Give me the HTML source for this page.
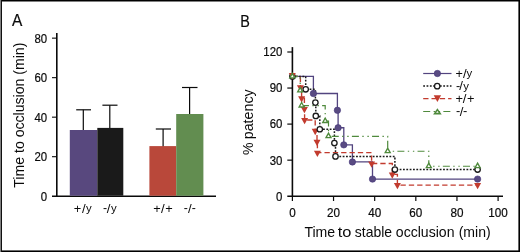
<!DOCTYPE html>
<html lang="en">
<head>
<meta charset="utf-8">
<title>Figure: time to occlusion and patency</title>
<style>
html,body{margin:0;padding:0;background:#fff;}
body{width:520px;height:252px;overflow:hidden;}
svg{display:block;font-family:"Liberation Sans", sans-serif;}
text{stroke:#0a0a0a;stroke-width:0.2px;}
text.t{stroke:none;}
</style>
</head>
<body>
<svg width="520" height="252" viewBox="0 0 520 252">
<rect x="0" y="0" width="520" height="252" fill="#ffffff"/>
<rect x="0" y="0" width="520" height="1.5" fill="#000"/>
<rect x="0" y="250.42" width="520" height="1.58" fill="#000"/>
<rect x="0" y="0" width="1" height="252" fill="#808080"/>
<rect x="1" y="0" width="1" height="252" fill="#101010"/>
<rect x="518.4" y="0" width="1.6" height="252" fill="#000"/>
<text x="11.9" y="26.4" font-size="17.3" fill="#0a0a0a" textLength="10.3" lengthAdjust="spacingAndGlyphs">A</text>
<text x="240.3" y="26.5" font-size="17.3" fill="#0a0a0a" textLength="9.6" lengthAdjust="spacingAndGlyphs">B</text>
<line x1="56.8" y1="32.9" x2="56.8" y2="196.80" stroke="#0a0a0a" stroke-width="1.6"/>
<line x1="52" y1="196.2" x2="216" y2="196.2" stroke="#0a0a0a" stroke-width="1.35"/>
<line x1="52" y1="156.69" x2="56.8" y2="156.69" stroke="#0a0a0a" stroke-width="1.1"/>
<line x1="52" y1="117.17" x2="56.8" y2="117.17" stroke="#0a0a0a" stroke-width="1.1"/>
<line x1="52" y1="77.66" x2="56.8" y2="77.66" stroke="#0a0a0a" stroke-width="1.1"/>
<line x1="52" y1="38.15" x2="56.8" y2="38.15" stroke="#0a0a0a" stroke-width="1.1"/>
<text x="47.2" y="200.55" font-size="12.3" fill="#0a0a0a" text-anchor="end" textLength="6.35" lengthAdjust="spacingAndGlyphs">0</text>
<text x="47.2" y="161.04" font-size="12.3" fill="#0a0a0a" text-anchor="end" textLength="12.7" lengthAdjust="spacingAndGlyphs">20</text>
<text x="47.2" y="121.52" font-size="12.3" fill="#0a0a0a" text-anchor="end" textLength="12.7" lengthAdjust="spacingAndGlyphs">40</text>
<text x="47.2" y="82.01" font-size="12.3" fill="#0a0a0a" text-anchor="end" textLength="12.7" lengthAdjust="spacingAndGlyphs">60</text>
<text x="47.2" y="42.5" font-size="12.3" fill="#0a0a0a" text-anchor="end" textLength="12.7" lengthAdjust="spacingAndGlyphs">80</text>
<text x="24.4" y="187.7" font-size="15" fill="#0a0a0a" textLength="145.1" lengthAdjust="spacingAndGlyphs" transform="rotate(-90 24.4 187.7)" class="t">Time to occlusion (min)</text>
<line x1="83.3" y1="109.8" x2="83.3" y2="131.0" stroke="#0a0a0a" stroke-width="1.2"/>
<line x1="76.2" y1="109.8" x2="91.0" y2="109.8" stroke="#0a0a0a" stroke-width="1.2"/>
<rect x="69.8" y="130.0" width="27.50" height="65.70" fill="#58487e"/>
<line x1="109.8" y1="105.2" x2="109.8" y2="128.9" stroke="#0a0a0a" stroke-width="1.2"/>
<line x1="102.4" y1="105.2" x2="117.5" y2="105.2" stroke="#0a0a0a" stroke-width="1.2"/>
<rect x="97.3" y="127.9" width="26.00" height="67.80" fill="#1a1a1a"/>
<line x1="163.1" y1="129.0" x2="163.1" y2="147.1" stroke="#0a0a0a" stroke-width="1.2"/>
<line x1="155.8" y1="129.0" x2="171.0" y2="129.0" stroke="#0a0a0a" stroke-width="1.2"/>
<rect x="149.4" y="146.1" width="26.80" height="49.60" fill="#b9483a"/>
<line x1="189.6" y1="87.5" x2="189.6" y2="115.0" stroke="#0a0a0a" stroke-width="1.2"/>
<line x1="182.0" y1="87.5" x2="197.5" y2="87.5" stroke="#0a0a0a" stroke-width="1.2"/>
<rect x="176.2" y="114.0" width="27.20" height="81.70" fill="#628d50"/>
<text class="t" fill="#0a0a0a" aria-label="+/y"><tspan x="73.8" y="213.1" font-size="12.8">+</tspan><tspan x="81.9" y="213.1" font-size="13.2">/</tspan><tspan x="86.1" y="211.8" font-size="11.4">y</tspan></text>
<text class="t" fill="#0a0a0a" aria-label="-/y"><tspan x="103.0" y="212.4" font-size="12.3">-</tspan><tspan x="106.7" y="213.1" font-size="13.2">/</tspan><tspan x="110.9" y="211.8" font-size="11.4">y</tspan></text>
<text class="t" fill="#0a0a0a" aria-label="+/+"><tspan x="153.2" y="213.1" font-size="12.8">+</tspan><tspan x="161.1" y="213.1" font-size="13.2">/</tspan><tspan x="165.2" y="213.1" font-size="12.8">+</tspan></text>
<text class="t" fill="#0a0a0a" aria-label="-/-"><tspan x="183.8" y="212.4" font-size="12.3">-</tspan><tspan x="188.0" y="213.1" font-size="13.2">/</tspan><tspan x="191.7" y="212.4" font-size="12.3">-</tspan></text>
<line x1="292.4" y1="47.1" x2="292.4" y2="196.80" stroke="#0a0a0a" stroke-width="1.6"/>
<line x1="287.3" y1="196.2" x2="503" y2="196.2" stroke="#0a0a0a" stroke-width="1.35"/>
<line x1="287.3" y1="160.15" x2="292.4" y2="160.15" stroke="#0a0a0a" stroke-width="1.2"/>
<line x1="287.3" y1="124.10" x2="292.4" y2="124.10" stroke="#0a0a0a" stroke-width="1.2"/>
<line x1="287.3" y1="88.05" x2="292.4" y2="88.05" stroke="#0a0a0a" stroke-width="1.2"/>
<line x1="287.3" y1="52.00" x2="292.4" y2="52.00" stroke="#0a0a0a" stroke-width="1.2"/>
<text x="282.4" y="200.55" font-size="12.3" fill="#0a0a0a" text-anchor="end" textLength="6.35" lengthAdjust="spacingAndGlyphs">0</text>
<text x="282.4" y="164.5" font-size="12.3" fill="#0a0a0a" text-anchor="end" textLength="12.7" lengthAdjust="spacingAndGlyphs">30</text>
<text x="282.4" y="128.45" font-size="12.3" fill="#0a0a0a" text-anchor="end" textLength="12.7" lengthAdjust="spacingAndGlyphs">60</text>
<text x="282.4" y="92.4" font-size="12.3" fill="#0a0a0a" text-anchor="end" textLength="12.7" lengthAdjust="spacingAndGlyphs">90</text>
<text x="282.4" y="56.35" font-size="12.3" fill="#0a0a0a" text-anchor="end" textLength="19.049999999999997" lengthAdjust="spacingAndGlyphs">120</text>
<line x1="292.40" y1="196.2" x2="292.40" y2="201" stroke="#0a0a0a" stroke-width="1.2"/>
<text x="292.4" y="216.7" font-size="12.3" fill="#0a0a0a" text-anchor="middle" textLength="6.5" lengthAdjust="spacingAndGlyphs">0</text>
<line x1="333.54" y1="196.2" x2="333.54" y2="201" stroke="#0a0a0a" stroke-width="1.2"/>
<text x="333.54" y="216.7" font-size="12.3" fill="#0a0a0a" text-anchor="middle" textLength="13.0" lengthAdjust="spacingAndGlyphs">20</text>
<line x1="374.68" y1="196.2" x2="374.68" y2="201" stroke="#0a0a0a" stroke-width="1.2"/>
<text x="374.68" y="216.7" font-size="12.3" fill="#0a0a0a" text-anchor="middle" textLength="13.0" lengthAdjust="spacingAndGlyphs">40</text>
<line x1="415.82" y1="196.2" x2="415.82" y2="201" stroke="#0a0a0a" stroke-width="1.2"/>
<text x="415.82" y="216.7" font-size="12.3" fill="#0a0a0a" text-anchor="middle" textLength="13.0" lengthAdjust="spacingAndGlyphs">60</text>
<line x1="456.96" y1="196.2" x2="456.96" y2="201" stroke="#0a0a0a" stroke-width="1.2"/>
<text x="456.96" y="216.7" font-size="12.3" fill="#0a0a0a" text-anchor="middle" textLength="13.0" lengthAdjust="spacingAndGlyphs">80</text>
<line x1="498.10" y1="196.2" x2="498.10" y2="201" stroke="#0a0a0a" stroke-width="1.2"/>
<text x="498.1" y="216.7" font-size="12.3" fill="#0a0a0a" text-anchor="middle" textLength="19.5" lengthAdjust="spacingAndGlyphs">100</text>
<text class="t" y="0" font-size="15" fill="#0a0a0a" transform="translate(252.6 154.4) rotate(-90)" aria-label="% patency"><tspan x="-0.56" textLength="12.46" lengthAdjust="spacingAndGlyphs">%</tspan> <tspan x="15.16" textLength="49.95" lengthAdjust="spacingAndGlyphs">patency</tspan></text>
<text class="t" y="237" font-size="14.4" fill="#0a0a0a" aria-label="Time to stable occlusion (min)"><tspan x="304.4" textLength="30.8" lengthAdjust="spacingAndGlyphs">Time</tspan> <tspan x="337.7" textLength="13.7" lengthAdjust="spacingAndGlyphs">to</tspan> <tspan x="354.8" textLength="37.3" lengthAdjust="spacingAndGlyphs">stable</tspan> <tspan x="395.8" textLength="58.7" lengthAdjust="spacingAndGlyphs">occlusion</tspan> <tspan x="458.7" textLength="32.0" lengthAdjust="spacingAndGlyphs">(min)</tspan></text>
<path d="M292.40 76.40 L313.40 76.40 L313.40 93.51 L337.40 93.51 L337.40 110.30 L338.10 110.30 L338.10 127.74 L343.80 127.74 L343.80 144.86 L352.40 144.86 L352.40 161.97 L372.50 161.97 L372.50 179.10 L477.60 179.10" fill="none" stroke="#52447f" stroke-width="1.3"/>
<path d="M292.40 76.40 L305.70 76.40 L305.70 89.28 L315.40 89.28 L315.40 102.61 L315.80 102.61 L315.80 115.94 L319.80 115.94 L319.80 129.27 L334.40 129.27 L334.40 143.05 L335.50 143.05 L335.50 156.38 L394.90 156.38 L394.90 169.55 L477.60 169.55" fill="none" stroke="#1a1a1a" stroke-width="1.5" stroke-dasharray="1.8 1.54"/>
<path d="M292.40 76.40 L300.40 76.40 L300.40 87.29 L301.60 87.29 L301.60 98.18 L304.40 98.18 L304.40 109.07 L304.60 109.07 L304.60 119.96 L315.20 119.96 L315.20 130.85 L317.00 130.85 L317.00 141.75 L317.40 141.75 L317.40 152.64 L371.60 152.64 L371.60 163.53 L392.30 163.53 L392.30 174.42 L397.40 174.42 L397.40 185.05 L477.60 185.05" fill="none" stroke="#c23b2e" stroke-width="1.35" stroke-dasharray="5.3 3.04" stroke-dashoffset="0.1"/>
<path d="M292.40 76.40 L300.20 76.40 L300.20 90.60 L301.60 90.60 L301.60 105.65 L325.20 105.65 L325.20 121.20 L328.50 121.20 L328.50 136.30 L387.70 136.30 L387.70 151.27 L428.80 151.27 L428.80 166.25 L477.60 166.25" fill="none" stroke="#4f8a3c" stroke-width="1.2" stroke-dasharray="7.0 3.4 1.4 3.7 1.4 3.25" stroke-dashoffset="1.5"/>
<circle cx="292.40" cy="76.40" r="2.7" fill="#fff" stroke="#1a1a1a" stroke-width="1.3"/>
<circle cx="313.40" cy="93.51" r="3.2" fill="#594b82" stroke="#44367a" stroke-width="0.6"/>
<circle cx="337.40" cy="110.30" r="3.2" fill="#594b82" stroke="#44367a" stroke-width="0.6"/>
<circle cx="338.10" cy="127.74" r="3.2" fill="#594b82" stroke="#44367a" stroke-width="0.6"/>
<circle cx="343.80" cy="144.86" r="3.2" fill="#594b82" stroke="#44367a" stroke-width="0.6"/>
<circle cx="352.40" cy="161.97" r="3.2" fill="#594b82" stroke="#44367a" stroke-width="0.6"/>
<circle cx="372.50" cy="179.10" r="3.2" fill="#594b82" stroke="#44367a" stroke-width="0.6"/>
<circle cx="477.60" cy="179.10" r="3.2" fill="#594b82" stroke="#44367a" stroke-width="0.6"/>
<path d="M288.80 72.90 L295.80 72.90 L292.30 79.20 Z" fill="#c23b2e"/>
<path d="M296.90 85.29 L303.90 85.29 L300.40 91.59 Z" fill="#c23b2e"/>
<path d="M298.10 96.18 L305.10 96.18 L301.60 102.48 Z" fill="#c23b2e"/>
<path d="M300.90 107.07 L307.90 107.07 L304.40 113.37 Z" fill="#c23b2e"/>
<path d="M301.10 117.96 L308.10 117.96 L304.60 124.26 Z" fill="#c23b2e"/>
<path d="M311.70 128.85 L318.70 128.85 L315.20 135.15 Z" fill="#c23b2e"/>
<path d="M313.50 139.75 L320.50 139.75 L317.00 146.05 Z" fill="#c23b2e"/>
<path d="M313.90 150.64 L320.90 150.64 L317.40 156.94 Z" fill="#c23b2e"/>
<path d="M368.10 161.53 L375.10 161.53 L371.60 167.83 Z" fill="#c23b2e"/>
<path d="M388.80 172.42 L395.80 172.42 L392.30 178.72 Z" fill="#c23b2e"/>
<path d="M393.90 183.05 L400.90 183.05 L397.40 189.35 Z" fill="#c23b2e"/>
<path d="M474.10 183.05 L481.10 183.05 L477.60 189.35 Z" fill="#c23b2e"/>
<circle cx="305.70" cy="89.28" r="2.7" fill="#fff" stroke="#1a1a1a" stroke-width="1.3"/>
<circle cx="315.40" cy="102.61" r="2.7" fill="#fff" stroke="#1a1a1a" stroke-width="1.3"/>
<circle cx="315.80" cy="115.94" r="2.7" fill="#fff" stroke="#1a1a1a" stroke-width="1.3"/>
<circle cx="319.80" cy="129.27" r="2.7" fill="#fff" stroke="#1a1a1a" stroke-width="1.3"/>
<circle cx="334.40" cy="143.05" r="2.7" fill="#fff" stroke="#1a1a1a" stroke-width="1.3"/>
<circle cx="335.50" cy="156.38" r="2.7" fill="#fff" stroke="#1a1a1a" stroke-width="1.3"/>
<circle cx="394.90" cy="169.55" r="2.7" fill="#fff" stroke="#1a1a1a" stroke-width="1.3"/>
<circle cx="477.60" cy="169.55" r="2.7" fill="#fff" stroke="#1a1a1a" stroke-width="1.3"/>
<path d="M289.80 77.93 L294.80 77.93 L292.30 73.48 Z" fill="#fff" stroke="#4f8a3c" stroke-width="1.35" stroke-linejoin="miter" stroke-miterlimit="10"/>
<path d="M297.70 91.92 L302.70 91.92 L300.20 87.47 Z" fill="#fff" stroke="#4f8a3c" stroke-width="1.35" stroke-linejoin="miter" stroke-miterlimit="10"/>
<path d="M299.10 106.98 L304.10 106.98 L301.60 102.53 Z" fill="#fff" stroke="#4f8a3c" stroke-width="1.35" stroke-linejoin="miter" stroke-miterlimit="10"/>
<path d="M322.70 122.53 L327.70 122.53 L325.20 118.08 Z" fill="#fff" stroke="#4f8a3c" stroke-width="1.35" stroke-linejoin="miter" stroke-miterlimit="10"/>
<path d="M326.00 137.62 L331.00 137.62 L328.50 133.17 Z" fill="#fff" stroke="#4f8a3c" stroke-width="1.35" stroke-linejoin="miter" stroke-miterlimit="10"/>
<path d="M385.20 152.60 L390.20 152.60 L387.70 148.15 Z" fill="#fff" stroke="#4f8a3c" stroke-width="1.35" stroke-linejoin="miter" stroke-miterlimit="10"/>
<path d="M426.30 167.57 L431.30 167.57 L428.80 163.12 Z" fill="#fff" stroke="#4f8a3c" stroke-width="1.35" stroke-linejoin="miter" stroke-miterlimit="10"/>
<path d="M475.10 167.57 L480.10 167.57 L477.60 163.12 Z" fill="#fff" stroke="#4f8a3c" stroke-width="1.35" stroke-linejoin="miter" stroke-miterlimit="10"/>
<line x1="423.2" y1="73.5" x2="451.5" y2="73.5" stroke="#52447f" stroke-width="1.2"/>
<circle cx="437.40" cy="73.50" r="3.2" fill="#594b82" stroke="#44367a" stroke-width="0.6"/>
<line x1="423.2" y1="86.1" x2="451.5" y2="86.1" stroke="#1a1a1a" stroke-width="1.5" stroke-dasharray="1.8 1.54"/>
<circle cx="437.20" cy="86.15" r="2.7" fill="#fff" stroke="#1a1a1a" stroke-width="1.3"/>
<line x1="423.2" y1="98.6" x2="451.5" y2="98.6" stroke="#c23b2e" stroke-width="1.3" stroke-dasharray="5.3 3"/>
<path d="M433.70 95.3 L441.10 95.3 L437.40 102.1 Z" fill="#c23b2e"/>
<line x1="423.2" y1="111.5" x2="451.5" y2="111.5" stroke="#4f8a3c" stroke-width="1.2" stroke-dasharray="7.0 3.4 1.4 3.7 1.4 3.25"/>
<path d="M434.60 113.65 L440.20 113.65 L437.40 109.55 Z" fill="#fff" stroke="#4f8a3c" stroke-width="1.6" stroke-linejoin="miter" stroke-miterlimit="10"/>
<text class="t" fill="#0a0a0a" aria-label="+/y"><tspan x="455.6" y="78.0" font-size="12.6">+</tspan><tspan x="463.0" y="77.7" font-size="13.2">/</tspan><tspan x="466.6" y="77.3" font-size="11.4">y</tspan></text>
<text class="t" fill="#0a0a0a" aria-label="-/y"><tspan x="456.0" y="90.1" font-size="12.6">-</tspan><tspan x="459.2" y="90.2" font-size="13.2">/</tspan><tspan x="463.3" y="89.8" font-size="11.4">y</tspan></text>
<text class="t" fill="#0a0a0a" aria-label="+/+"><tspan x="455.6" y="103.1" font-size="12.8">+</tspan><tspan x="462.8" y="102.7" font-size="13.2">/</tspan><tspan x="466.9" y="103.1" font-size="12.8">+</tspan></text>
<text class="t" fill="#0a0a0a" aria-label="-/-"><tspan x="456.0" y="115.4" font-size="12.8">-</tspan><tspan x="459.8" y="115.6" font-size="13.2">/</tspan><tspan x="463.1" y="115.4" font-size="12.8">-</tspan></text>
</svg>
</body>
</html>
